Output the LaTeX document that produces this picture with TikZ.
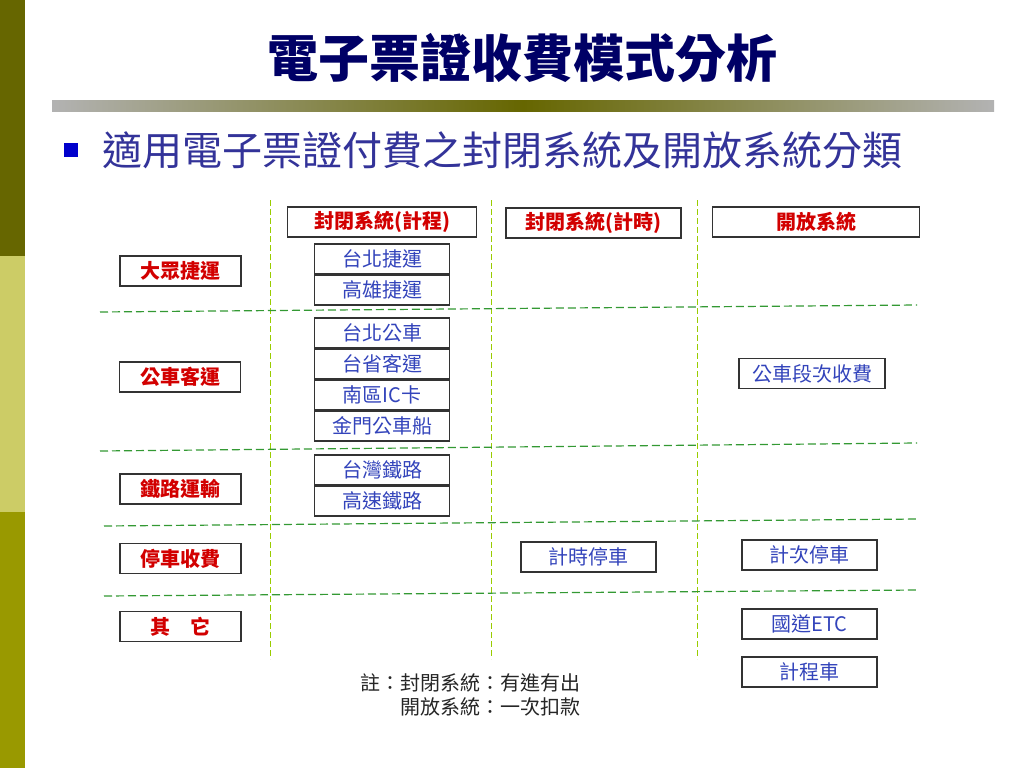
\documentclass[tikz,border=0pt]{standalone}
\usepackage{fontspec}
\setmainfont{Noto Sans CJK TC}
\usepackage{tikz}
\usetikzlibrary{positioning}

\definecolor{titleblue}{RGB}{0,0,102}
\definecolor{subblue}{RGB}{51,51,153}
\definecolor{labelred}{RGB}{210,0,0}
\definecolor{itemblue}{RGB}{51,68,187}
\definecolor{bardark}{RGB}{102,102,0}
\definecolor{barlight}{RGB}{204,204,102}
\definecolor{barmid}{RGB}{153,153,0}
\definecolor{vline}{RGB}{153,204,0}
\definecolor{hline}{RGB}{51,153,51}

\begin{document}
\begin{tikzpicture}[x=1pt, y=-1pt,
		catbox/.style={draw=black!80, line width=1.1pt, minimum width=121pt, minimum height=30pt, inner sep=0pt, text=labelred, font=\fontsize{20}{20}\selectfont\bfseries},
		headbox/.style={catbox, minimum height=30pt},
		itembox/.style={draw=black!80, line width=1.1pt, minimum width=135pt, minimum height=30pt, inner sep=0pt, text=itemblue, font=\fontsize{20}{20}\selectfont},
		vdash/.style={draw=vline, line width=0.9pt, dash pattern=on 6pt off 3pt},
		hdash/.style={draw=hline, line width=1.2pt, dash pattern=on 8pt off 4pt}]
			\useasboundingbox (0, 0) rectangle (1024, 768);
			\fill [white] (0, 0) rectangle (1024, 768);

			\fill [bardark] (0, 0) rectangle (25, 256);
			\fill [barlight] (0, 256) rectangle (25, 512);
			\fill [barmid] (0, 512) rectangle (25, 768);
			\shade [left color=black!30, right color=black!30, middle color=bardark] (52, 100) rectangle (994, 111);

			\node (title) at (522, 58) {\fontsize{51}{51}\selectfont\bfseries\textcolor{titleblue}{電子票證收費模式分析}};
			\fill [blue!80!black] (64, 143) rectangle (78, 157);
			\node [anchor=west, inner sep=0pt] (subtitle) at (102, 150) {\fontsize{40}{40}\selectfont\textcolor{subblue}{適用電子票證付費之封閉系統及開放系統分類}};

			\coordinate (v1a) at (270, 200);
			\coordinate (v1b) at (270, 659);
			\coordinate (v2a) at (491, 200);
			\coordinate (v2b) at (491, 659);
			\coordinate (v3a) at (697, 200);
			\coordinate (v3b) at (697, 659);
			\coordinate (h1a) at (100, 312);
			\coordinate (h1b) at (917, 305);
			\coordinate (h2a) at (100, 451);
			\coordinate (h2b) at (917, 443);
			\coordinate (h3a) at (104, 526);
			\coordinate (h3b) at (919, 519);
			\coordinate (h4a) at (104, 596);
			\coordinate (h4b) at (919, 590);

			\draw [vdash] (v1a) to (v1b);
			\draw [vdash] (v2a) to (v2b);
			\draw [vdash] (v3a) to (v3b);
			\draw [hdash] (h1a) to (h1b);
			\draw [hdash] (h2a) to (h2b);
			\draw [hdash] (h3a) to (h3b);
			\draw [hdash] (h4a) to (h4b);

			\node [headbox, minimum width=189pt] (head1) at (382, 222) {封閉系統(計程)};
			\node [headbox, minimum width=175pt] (head2) at (593.5, 223) {封閉系統(計時)};
			\node [headbox, minimum width=207pt] (head3) at (816, 222) {開放系統};

			\node [catbox] (cat0) at (180.5, 271) {大眾捷運};
			\node [catbox] (cat1) at (180, 377) {公車客運};
			\node [catbox] (cat2) at (180.5, 489) {鐵路運輸};
			\node [catbox] (cat3) at (180.5, 558.5) {停車收費};
			\node [catbox] (cat4) at (180.5, 626.5) {其　它};

			\node [itembox] (item0) at (382, 259) {台北捷運};
			\node [itembox] (item1) at (382, 290) {高雄捷運};
			\node [itembox] (item2) at (382, 333) {台北公車};
			\node [itembox] (item3) at (382, 364) {台省客運};
			\node [itembox] (item4) at (382, 395) {南區IC卡};
			\node [itembox] (item5) at (382, 426) {金門公車船};
			\node [itembox] (item6) at (382, 470) {台灣鐵路};
			\node [itembox] (item7) at (382, 501) {高速鐵路};

			\node [itembox] (item8) at (588.5, 557) {計時停車};
			\node [itembox, minimum width=146pt] (item9) at (812, 373.5) {公車段次收費};
			\node [itembox] (item10) at (809.5, 555) {計次停車};
			\node [itembox] (item11) at (809.5, 624) {國道ETC};
			\node [itembox] (item12) at (809.5, 672) {計程車};

			\node [anchor=east, align=right, inner sep=0pt, text=black!85, font=\fontsize{20}{24}\selectfont] (note) at (581, 695) {註：封閉系統：有進有出\\開放系統：一次扣款};
	\end{tikzpicture}
\end{document}
